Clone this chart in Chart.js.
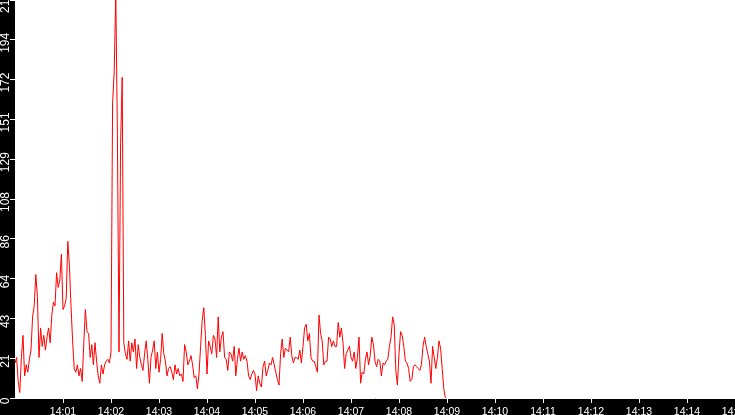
<!DOCTYPE html>
<html>
<head>
<meta charset="utf-8">
<script src="https://cdn.jsdelivr.net/npm/chart.js@4"></script>
<style>
  html, body { margin: 0; padding: 0; background: #000; }
  #chart { display: block; }
</style>
</head>
<body>
<canvas id="chart" width="735" height="415"></canvas>
<script>
// one sample every 2 seconds, starting at 14:00:00
const stepSeconds = 2;

const values = [
  // 14:00
  19, 22, 9, 3, 22, 34, 12, 18, 14, 21, 26, 44, 50, 67, 55, 22, 38, 28, 34, 26, 33, 38, 30, 45, 52, 50, 68, 60, 64, 78,
  // 14:01
  48, 50, 54, 85, 72, 50, 31, 16, 14, 18, 12, 16, 9, 30, 48, 36, 35, 22, 29, 18, 30, 20, 12, 8, 18, 13, 18, 20, 21, 19,
  // 14:02
  25, 160, 177, 220, 143, 25, 138, 174, 30, 24, 21, 31, 20, 30, 25, 32, 16, 29, 22, 18, 15, 24, 31, 21, 8, 22, 26, 31, 16, 25,
  // 14:03
  14, 21, 35, 24, 20, 12, 16, 17, 14, 10, 18, 13, 16, 12, 13, 9, 29, 25, 18, 20, 23, 18, 11, 12, 5, 13, 28, 42, 49, 34,
  // 14:04
  13, 31, 28, 24, 34, 32, 22, 44, 25, 33, 36, 22, 21, 15, 25, 24, 20, 28, 12, 21, 27, 20, 25, 21, 23, 20, 12, 10, 13, 15,
  // 14:05
  13, 4, 12, 8, 6, 17, 20, 12, 15, 19, 18, 22, 18, 14, 10, 7, 24, 32, 22, 27, 26, 25, 33, 23, 19, 22, 22, 21, 26, 19,
  // 14:06
  28, 38, 40, 31, 35, 22, 20, 20, 17, 14, 45, 35, 31, 18, 20, 20, 33, 32, 28, 31, 28, 28, 41, 33, 38, 30, 16, 24, 26, 28,
  // 14:07
  22, 20, 25, 16, 22, 33, 8, 14, 13, 21, 25, 18, 23, 33, 29, 20, 17, 21, 20, 12, 19, 18, 20, 21, 28, 33, 44, 40, 15, 7,
  // 14:08
  24, 36, 34, 28, 20, 19, 16, 9, 10, 17, 18, 17, 16, 15, 18, 28, 33, 28, 24, 20, 8, 28, 22, 16, 22, 31, 27, 16, 5, 0
];

const minuteLabels = ['14:00', '14:01', '14:02', '14:03', '14:04', '14:05', '14:06', '14:07',
  '14:08', '14:09', '14:10', '14:11', '14:12', '14:13', '14:14', '14:15'];

const yTickValues = [0, 21.6, 43.2, 64.8, 86.4, 108, 129.6, 151.2, 172.8, 194.4, 216];
const yTickLabels = ['0', '21', '43', '64', '86', '108', '129', '151', '172', '194', '216'];

const points = values.map((v, i) => ({ x: i * stepSeconds, y: v }));

// black frame round the white plot area
const backdrop = {
  id: 'backdrop',
  beforeDraw(chart) {
    const { ctx, chartArea: a } = chart;
    ctx.save();
    ctx.fillStyle = '#000';
    ctx.fillRect(0, 0, chart.width, chart.height);
    ctx.fillStyle = '#fff';
    ctx.fillRect(a.left, a.top, a.right - a.left, a.bottom - a.top);
    ctx.restore();
  }
};

new Chart(document.getElementById('chart'), {
  type: 'line',
  data: {
    datasets: [{
      data: points,
      borderColor: '#ff0000',
      borderWidth: 1,
      pointRadius: 0,
      tension: 0,
      fill: false
    }]
  },
  options: {
    responsive: false,
    animation: false,
    devicePixelRatio: 1,
    layout: { padding: 0 },
    plugins: { legend: { display: false }, tooltip: { enabled: false } },
    scales: {
      x: {
        type: 'linear',
        min: 0,
        max: (minuteLabels.length - 1) * 60,
        afterBuildTicks: (s) => { s.ticks = minuteLabels.map((_, i) => ({ value: i * 60 })); },
        afterFit: (s) => { s.height = 17; s.paddingLeft = 0; s.paddingRight = 0; },
        ticks: {
          color: '#fff',
          font: { family: 'Liberation Sans', size: 10.5 },
          padding: 3,
          autoSkip: false,
          minRotation: 0,
          maxRotation: 0,
          callback: (v, i) => (i === 0 ? null : minuteLabels[i])
        },
        grid: { drawOnChartArea: false, color: '#fff', tickLength: 5 },
        border: { color: '#fff' }
      },
      y: {
        min: 0,
        max: 216,
        afterBuildTicks: (s) => { s.ticks = yTickValues.map((v) => ({ value: v })); },
        afterFit: (s) => { s.width = 15; s.paddingTop = 0; s.paddingBottom = 0; },
        ticks: {
          color: '#fff',
          font: { family: 'Liberation Sans', size: 12 },
          minRotation: 90,
          maxRotation: 90,
          crossAlign: 'center',
          padding: -6,
          labelOffset: 3,
          callback: (v, i) => yTickLabels[i]
        },
        grid: { drawOnChartArea: false, color: '#fff', tickLength: 5 },
        border: { color: '#fff' }
      }
    }
  },
  plugins: [backdrop]
});
</script>
</body>
</html>
